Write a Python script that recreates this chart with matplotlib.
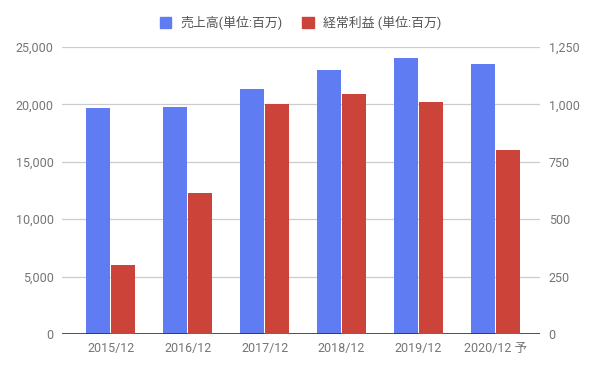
import numpy as np
import matplotlib.pyplot as plt
from matplotlib.patches import Patch

plt.rcParams['font.family'] = ['Roboto', 'Noto Sans CJK JP', 'DejaVu Sans']

categories = ['2015/12', '2016/12', '2017/12', '2018/12', '2019/12', '2020/12 予']
sales = [19650, 19730, 21300, 23000, 24040, 23500]
profit = [300, 612, 1000, 1045, 1010, 800]
left_ticks = [0, 5000, 10000, 15000, 20000, 25000]
right_ticks = [0, 250, 500, 750, 1000, 1250]

blue = '#5f7cf2'
red = '#cc4439'
gray = '#757575'

fig = plt.figure(figsize=(5.97, 3.69), dpi=100)
ax = fig.add_axes([0.104, 0.095, 0.801, 0.778])
ax2 = ax.twinx()

x = np.arange(len(categories))
w = 0.31
ax.bar(x - w / 2 - 0.004, sales, width=w, color=blue, zorder=3)
ax2.bar(x + w / 2 + 0.004, profit, width=w, color=red, zorder=3)

ax.set_ylim(0, 25000)
ax2.set_ylim(0, 1250)
ax.set_xlim(-0.63, 5.58)
ax.set_yticks(left_ticks)
ax.set_yticklabels([f'{v:,}' for v in left_ticks])
ax2.set_yticks(right_ticks)
ax2.set_yticklabels([f'{v:,}' for v in right_ticks])
ax.set_xticks(x)
ax.set_xticklabels(categories)

for a in (ax, ax2):
    for s in a.spines.values():
        s.set_visible(False)
    a.tick_params(length=0, colors=gray, labelsize=9)
ax.tick_params(axis='y', pad=6)
ax2.tick_params(axis='y', pad=6)
ax.tick_params(axis='x', pad=6)

ax.set_axisbelow(True)
ax.grid(axis='y', color='#cccccc', linewidth=0.9, zorder=0)
ax.axhline(0, color='#333333', linewidth=1.2, zorder=4)

handles = [Patch(color=blue, label='売上高(単位:百万)'),
           Patch(color=red, label='経常利益 (単位:百万)')]
leg = fig.legend(handles=handles, loc='center', bbox_to_anchor=(0.503, 0.937), ncol=2,
                 frameon=False, fontsize=9.3, handlelength=0.9, handleheight=0.9,
                 handletextpad=0.7, columnspacing=1.5)
for t in leg.get_texts():
    t.set_color('#555555')

fig.savefig('out.png', dpi=100)
